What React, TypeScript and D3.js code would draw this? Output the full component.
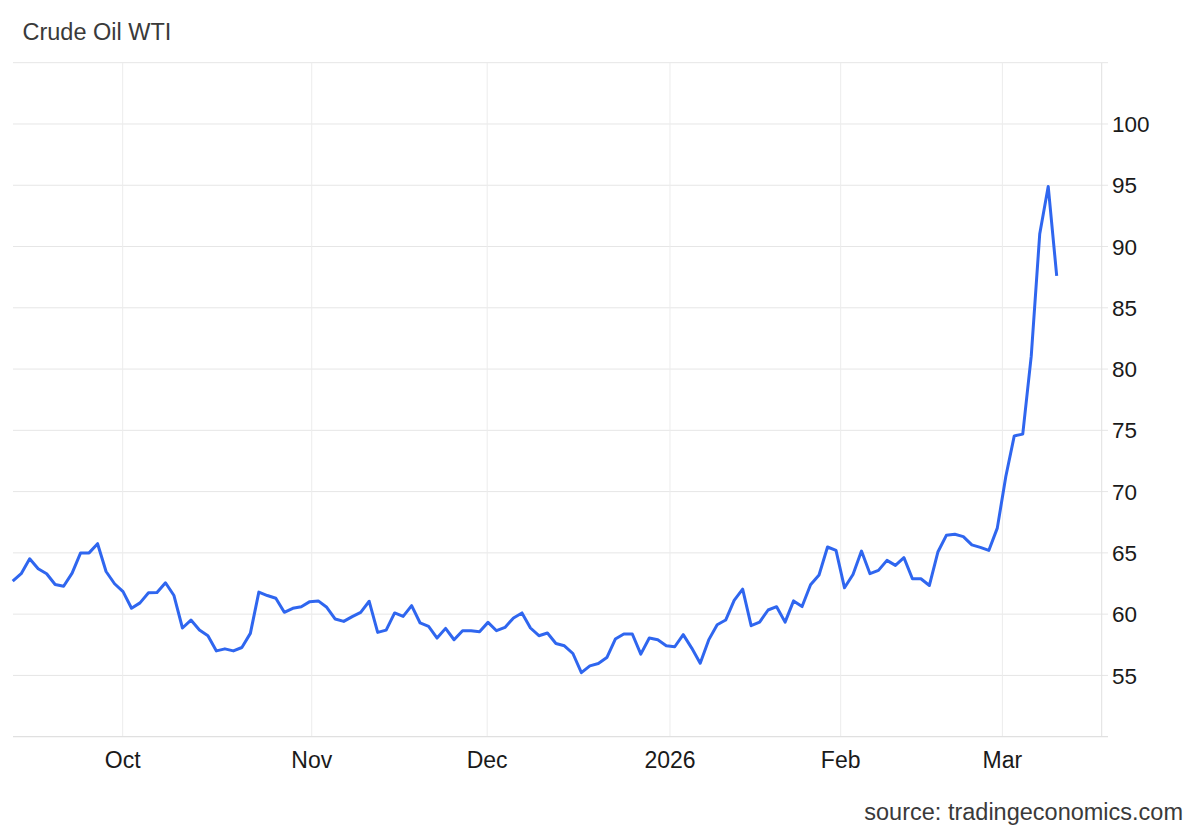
import React from "react";
import * as d3 from "d3";

const title = "Crude Oil WTI";
const source = "source: tradingeconomics.com";

// Daily WTI closes (one per trading session, evenly spaced)
const prices: number[] = [
  62.69, 63.3, 64.52, 63.7, 63.3, 62.42, 62.28, 63.35, 65.0, 65.0,
  65.75, 63.48, 62.48, 61.84, 60.48, 60.92, 61.74, 61.76, 62.56, 61.52,
  58.87, 59.52, 58.7, 58.24, 57.0, 57.17, 57.0, 57.28, 58.43, 61.8,
  61.52, 61.3, 60.15, 60.48, 60.61, 61.02, 61.08, 60.56, 59.6, 59.41,
  59.8, 60.15, 61.05, 58.51, 58.7, 60.1, 59.82, 60.7, 59.28, 59.0,
  58.05, 58.84, 57.91, 58.65, 58.65, 58.57, 59.33, 58.65, 58.92, 59.69,
  60.1, 58.87, 58.24, 58.46, 57.61, 57.42, 56.79, 55.23, 55.78, 55.97,
  56.46, 57.97, 58.38, 58.38, 56.74, 58.05, 57.91, 57.42, 57.34, 58.33,
  57.23, 56.0, 57.9, 59.14, 59.52, 61.13, 62.04, 59.06, 59.35, 60.34,
  60.61, 59.35, 61.08, 60.62, 62.4, 63.2, 65.48, 65.2, 62.15, 63.24,
  65.15, 63.3, 63.57, 64.39, 63.98, 64.61, 62.89, 62.89, 62.34, 65.07,
  66.43, 66.52, 66.33, 65.65, 65.45, 65.2, 67.02, 71.21, 74.55, 74.69,
  81.05, 91.02, 94.9, 87.61,
];

const monthLabels: string[] = ["Oct", "Nov", "Dec", "2026", "Feb", "Mar"];
// position of each month start, in session index units
const monthPos: number[] = [12.96, 35.23, 55.9, 77.44, 97.55, 116.6];

const yTicks: number[] = [55, 60, 65, 70, 75, 80, 85, 90, 95, 100];
const yGrid: number[] = [55, 60, 65, 70, 75, 80, 85, 90, 95, 100, 105];

export default function App() {
  const W = 1200;
  const H = 832;
  const plotLeft = 13;
  const plotRight = 1101.7;
  const plotTop = 62.7;
  const plotBottom = 736.7;

  const x = d3.scaleLinear().domain([0, prices.length - 1]).range([12.7, 1056.7]);
  const y = d3.scaleLinear().domain([50, 105]).range([plotBottom, plotTop]);

  const line = d3
    .line<number>()
    .x((_, i) => x(i))
    .y((d) => y(d));

  const font = "'Liberation Sans', Arial, Helvetica, sans-serif";
  const grid = "#e6e6e6";

  return (
    <svg
      width={W}
      height={H}
      viewBox={`0 0 ${W} ${H}`}
      style={{ position: "absolute", left: 0, top: 0, background: "#fff" }}
      fontFamily={font}
    >
      <rect x={0} y={0} width={W} height={H} fill="#fff" />
      <text x={22.5} y={40} fontSize={23.5} fill="#3a3a3a">
        {title}
      </text>

      {/* horizontal gridlines */}
      {yGrid.map((v) => (
        <g key={"h" + v}>
          <line x1={plotLeft} x2={plotRight} y1={y(v)} y2={y(v)} stroke={grid} strokeWidth={1} />
          <line x1={plotRight} x2={1108} y1={y(v)} y2={y(v)} stroke={grid} strokeWidth={1} />
        </g>
      ))}

      {/* vertical gridlines */}
      {monthPos.map((p, i) => (
        <line key={"v" + i} x1={x(p)} x2={x(p)} y1={plotTop} y2={plotBottom} stroke="#ececec" strokeWidth={1} />
      ))}

      {/* right axis line */}
      <line x1={plotRight} x2={plotRight} y1={plotTop} y2={plotBottom} stroke="#e0e0e0" strokeWidth={1} />
      {/* bottom axis line */}
      <line x1={plotLeft} x2={1108} y1={plotBottom} y2={plotBottom} stroke="#e0e0e0" strokeWidth={1.2} />

      {/* y labels */}
      {yTicks.map((v) => (
        <text key={"yl" + v} x={1112} y={y(v)} dy="0.36em" fontSize={22.5} fill="#1a1a1a">
          {v}
        </text>
      ))}

      {/* x labels */}
      {monthLabels.map((m, i) => (
        <text key={"xl" + m} x={x(monthPos[i])} y={768} textAnchor="middle" fontSize={23} fill="#1a1a1a">
          {m}
        </text>
      ))}

      <path d={line(prices) || ""} fill="none" stroke="#2f66ef" strokeWidth={3} strokeLinejoin="round" strokeLinecap="butt" />

      <text x={1183} y={820} textAnchor="end" fontSize={23.5} fill="#3a3a3a">
        {source}
      </text>
    </svg>
  );
}
